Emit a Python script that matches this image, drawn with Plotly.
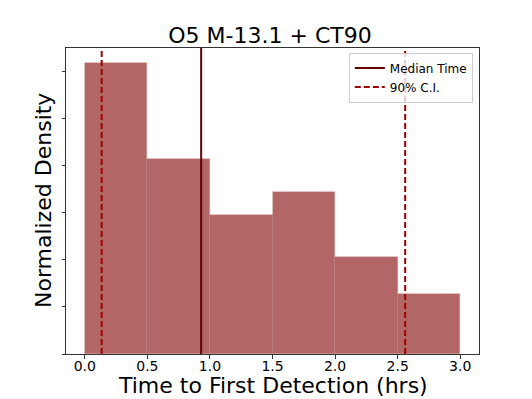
import plotly.graph_objects as go

bin_left = [0.0, 0.5, 1.0, 1.5, 2.0, 2.5]
bin_width = 0.5
density = [0.618, 0.414, 0.295, 0.343, 0.206, 0.127]
median_time = 0.93
ci_low, ci_high = 0.135, 2.56
ytick_vals = [0.0, 0.1, 0.2, 0.3, 0.4, 0.5, 0.6]
xtick_vals = [0.0, 0.5, 1.0, 1.5, 2.0, 2.5, 3.0]

ymax = max(density) * 1.05
FONT = "DejaVu Sans"
# page body has an 8px default margin, so the figure is drawn a bit smaller
W, H = 524, 391

fig = go.Figure()
fig.add_trace(go.Bar(
    x=[b + bin_width / 2 for b in bin_left], y=density, width=bin_width,
    marker=dict(color="rgba(128,0,0,0.6)", line=dict(width=0.6, color="rgba(200,140,140,0.6)")),
    showlegend=False, hoverinfo="skip"))
fig.add_trace(go.Scatter(
    x=[median_time, median_time], y=[0, ymax], mode="lines",
    line=dict(color="#640000", width=2), name="Median Time"))
fig.add_trace(go.Scatter(
    x=[ci_low, ci_low, None, ci_high, ci_high], y=[0, ymax, None, 0, ymax], mode="lines",
    line=dict(color="#a00000", width=2, dash="6px,3px"), name="90% C.I."))

fig.update_layout(
    width=W, height=H, template="plotly_white",
    margin=dict(l=58, r=53, t=40, b=45, autoexpand=False),
    paper_bgcolor="white", plot_bgcolor="white",
    font=dict(family=FONT, color="black"),
    bargap=0,
    title=dict(text="O5 M-13.1 + CT90", x=0.5, xref="container", xanchor="center",
               y=1 - 27 / H, yref="container", yanchor="middle",
               font=dict(size=22, family=FONT, color="black")),
    legend=dict(x=0.985, y=0.985, xanchor="right", yanchor="top",
                bgcolor="rgba(255,255,255,0.8)", bordercolor="#cccccc", borderwidth=1,
                font=dict(size=12, family=FONT), tracegroupgap=0),
    annotations=[
        dict(text="Time to First Detection (hrs)", xref="paper", yref="paper",
             x=0.5, y=-(385 - 354) / 306, xanchor="center", yanchor="middle", borderpad=0,
             showarrow=False, font=dict(size=22, family=FONT, color="black")),
        dict(text="Normalized Density", xref="paper", yref="paper",
             x=-(66 - 43) / 413, y=0.5, xanchor="center", yanchor="middle", textangle=-90,
             showarrow=False, font=dict(size=22, family=FONT, color="black")),
    ],
)
fig.update_xaxes(
    range=[-0.15, 3.15], tickvals=xtick_vals, ticktext=[f"{v:.1f}" for v in xtick_vals],
    showgrid=False, zeroline=False, showline=True, linecolor="#333", linewidth=1, mirror=True,
    ticks="outside", ticklen=3.5, tickcolor="#333", tickfont=dict(size=14, family=FONT),
    ticklabelstandoff=-4, automargin=False)
fig.update_yaxes(
    range=[0, ymax], tickvals=ytick_vals, showticklabels=False,
    showgrid=False, zeroline=False, showline=True, linecolor="#333", linewidth=1, mirror=True,
    ticks="outside", ticklen=3.5, tickcolor="#333", automargin=False)

fig.write_html("out.html")
